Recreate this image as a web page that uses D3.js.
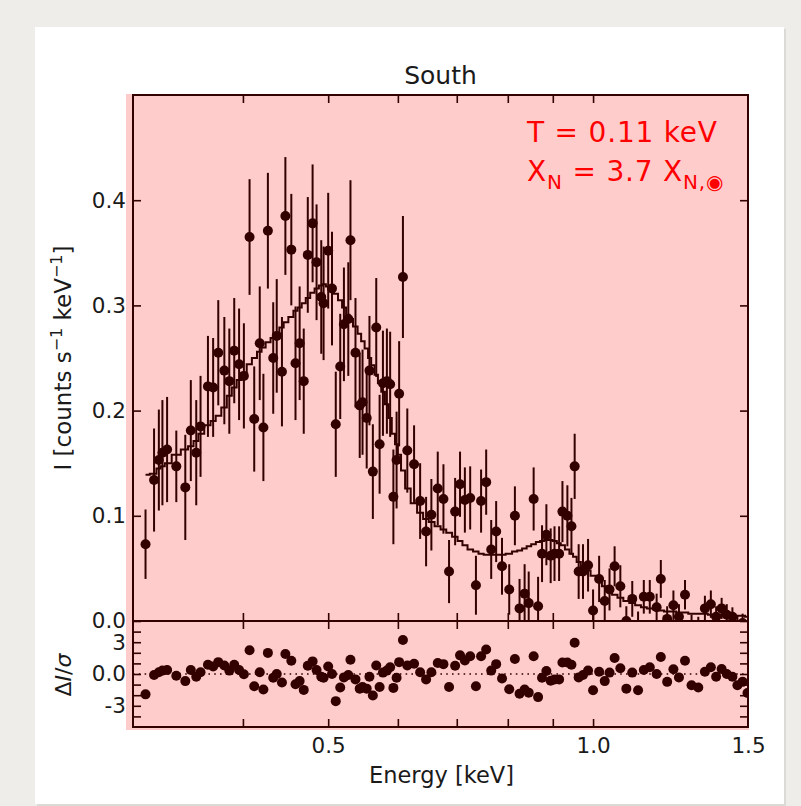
<!DOCTYPE html>
<html>
<head>
<meta charset="utf-8">
<script src="https://cdn.jsdelivr.net/npm/d3@7"></script>
<style>
  body { margin: 0; background: #efedea; }
  svg { display: block; font-family: "DejaVu Sans", sans-serif; }
</style>
</head>
<body>
<svg id="chart" width="801" height="806"></svg>
<script>

// spectrum bins: energy [keV], rate, 1-sigma error, model and residual (delta I / sigma)
const energy = [
  0.310, 0.317, 0.321, 0.324, 0.328, 0.336, 0.344, 0.349, 0.354, 0.358,
  0.365, 0.370, 0.375, 0.381, 0.386, 0.391, 0.396, 0.401, 0.407, 0.412,
  0.418, 0.422, 0.427, 0.433, 0.437, 0.443, 0.447, 0.454, 0.459, 0.464,
  0.469, 0.474, 0.480, 0.485, 0.491, 0.494, 0.500, 0.505, 0.510, 0.516,
  0.521, 0.527, 0.530, 0.537, 0.543, 0.547, 0.553, 0.557, 0.562, 0.567,
  0.572, 0.577, 0.583, 0.588, 0.593, 0.598, 0.602, 0.608, 0.615, 0.626,
  0.636, 0.646, 0.655, 0.666, 0.676, 0.686, 0.697, 0.706, 0.715, 0.725,
  0.736, 0.746, 0.756, 0.766, 0.776, 0.788, 0.803, 0.815, 0.825, 0.836,
  0.845, 0.856, 0.866, 0.875, 0.885, 0.895, 0.904, 0.915, 0.923, 0.935,
  0.945, 0.953, 0.963, 0.974, 0.987, 1.000, 1.016, 1.031, 1.044, 1.058,
  1.074, 1.091, 1.108, 1.125, 1.142, 1.160, 1.181, 1.194, 1.214, 1.234,
  1.252, 1.272, 1.294, 1.317, 1.340, 1.361, 1.380, 1.400, 1.419, 1.440,
  1.459, 1.479, 1.498
];

const rate = [
  0.073, 0.134, 0.153, 0.160, 0.163, 0.147, 0.127, 0.181, 0.160, 0.185,
  0.223, 0.222, 0.255, 0.238, 0.228, 0.257, 0.244, 0.233, 0.365, 0.192,
  0.264, 0.184, 0.371, 0.250, 0.271, 0.237, 0.385, 0.353, 0.245, 0.264,
  0.228, 0.348, 0.378, 0.341, 0.308, 0.302, 0.352, 0.316, 0.187, 0.242,
  0.282, 0.287, 0.362, 0.255, 0.205, 0.208, 0.193, 0.238, 0.142, 0.279,
  0.168, 0.226, 0.228, 0.225, 0.118, 0.153, 0.216, 0.327, 0.162, 0.149,
  0.114, 0.085, 0.101, 0.126, 0.116, 0.047, 0.104, 0.130, 0.115, 0.117,
  0.034, 0.114, 0.132, 0.068, 0.085, 0.052, 0.030, 0.100, 0.012, 0.026,
  0.017, 0.116, 0.014, 0.064, 0.082, 0.062, 0.064, 0.064, 0.104, 0.100,
  0.090, 0.147, 0.047, 0.047, 0.053, 0.010, 0.040, 0.019, 0.030, 0.052,
  0.033, 0.000, 0.021, -0.004, 0.023, 0.023, 0.013, 0.040, 0.002, 0.015,
  0.004, 0.025, -0.005, -0.007, 0.012, 0.016, 0.004, 0.012, 0.006, 0.004,
  -0.005, -0.002, -0.010
];

const rateErr = [
  0.033, 0.049, 0.048, 0.050, 0.050, 0.034, 0.050, 0.048, 0.050, 0.048,
  0.048, 0.047, 0.050, 0.051, 0.050, 0.050, 0.053, 0.050, 0.055, 0.050,
  0.054, 0.051, 0.055, 0.053, 0.054, 0.052, 0.056, 0.053, 0.054, 0.054,
  0.050, 0.055, 0.056, 0.055, 0.054, 0.054, 0.055, 0.054, 0.050, 0.050,
  0.054, 0.054, 0.057, 0.052, 0.050, 0.050, 0.048, 0.052, 0.045, 0.047,
  0.047, 0.050, 0.050, 0.050, 0.045, 0.046, 0.050, 0.058, 0.040, 0.037,
  0.036, 0.033, 0.034, 0.035, 0.033, 0.030, 0.032, 0.031, 0.031, 0.030,
  0.028, 0.030, 0.031, 0.028, 0.029, 0.027, 0.024, 0.028, 0.028, 0.028,
  0.030, 0.030, 0.028, 0.027, 0.029, 0.026, 0.026, 0.026, 0.029, 0.029,
  0.027, 0.031, 0.026, 0.026, 0.025, 0.020, 0.022, 0.020, 0.020, 0.019,
  0.020, 0.014, 0.017, 0.013, 0.016, 0.016, 0.013, 0.018, 0.012, 0.014,
  0.012, 0.014, 0.011, 0.011, 0.012, 0.013, 0.010, 0.010, 0.010, 0.009,
  0.010, 0.009, 0.008
];

const model = [
  0.139, 0.140, 0.145, 0.147, 0.150, 0.158, 0.163, 0.166, 0.171, 0.178,
  0.186, 0.190, 0.195, 0.203, 0.214, 0.222, 0.229, 0.236, 0.244, 0.250,
  0.256, 0.260, 0.265, 0.269, 0.272, 0.279, 0.284, 0.289, 0.295, 0.298,
  0.302, 0.307, 0.312, 0.316, 0.319, 0.320, 0.318, 0.315, 0.311, 0.305,
  0.298, 0.291, 0.287, 0.280, 0.273, 0.266, 0.259, 0.250, 0.243, 0.234,
  0.226, 0.218, 0.206, 0.193, 0.178, 0.168, 0.158, 0.143, 0.126, 0.112,
  0.103, 0.097, 0.094, 0.090, 0.087, 0.084, 0.080, 0.076, 0.072, 0.068,
  0.066, 0.064, 0.063, 0.063, 0.063, 0.063, 0.064, 0.066, 0.067, 0.069,
  0.071, 0.073, 0.075, 0.076, 0.077, 0.077, 0.076, 0.074, 0.072, 0.068,
  0.064, 0.061, 0.056, 0.052, 0.048, 0.043, 0.039, 0.033, 0.028, 0.025,
  0.022, 0.019, 0.017, 0.015, 0.013, 0.012, 0.011, 0.010, 0.009, 0.009,
  0.008, 0.008, 0.007, 0.007, 0.007, 0.006, 0.006, 0.006, 0.006, 0.005,
  0.005, 0.005, 0.004
];

const resid = [
  -1.92, -0.10, 0.16, 0.32, 0.38, -0.16, -0.67, 0.38, -0.26, 0.16,
  0.87, 0.70, 1.12, 0.80, 0.32, 0.87, 0.38, -0.03, 2.24, -1.15,
  0.16, -1.47, 1.99, -0.35, 0.00, -0.80, 1.89, 1.25, -0.96, -0.67,
  -1.50, 0.77, 1.19, 0.38, -0.26, -0.35, 0.70, 0.00, -2.56, -1.28,
  -0.32, -0.10, 1.35, -0.51, -1.38, -1.22, -1.38, -0.26, -2.02, 0.80,
  -1.22, 0.13, 0.32, 0.64, -1.31, -0.35, 1.12, 3.20, 0.80, 0.96,
  0.16, -0.51, 0.16, 1.03, 0.93, -1.22, 0.77, 1.76, 1.28, 1.67,
  -1.15, 1.67, 2.31, 0.32, 0.93, -0.42, -1.44, 1.41, -1.86, -1.47,
  -1.76, 1.67, -2.18, -0.35, 0.29, -0.64, -0.51, -0.51, 1.09, 1.09,
  0.87, 2.95, -0.32, -0.10, 0.32, -1.54, 0.22, -0.67, 0.13, 1.51,
  0.54, -1.38, 0.13, -1.54, 0.38, 0.64, 0.00, 1.60, -0.74, 0.45,
  -0.32, 1.25, -1.06, -1.28, 0.22, 0.64, -0.26, 0.48, 0.00, -0.26,
  -1.06, -0.74, -1.79
];

// ticks
const xTicks = [0.4, 0.5, 0.6, 0.7, 0.8, 0.9, 1.0];
const xLabels = [0.5, 1.0, 1.5];
const yTicks = [0.0, 0.1, 0.2, 0.3, 0.4];
const rTicks = [-4, -3, -2, -1, 0, 1, 2, 3, 4];
const rLabels = [-3, 0, 3];


// layout
const pLeft = 133, pRight = 748, pTop = 95, pMid = 621, pBottom = 727;
const ink = '#000';

const svg = d3.select('#chart');

// card
svg.append('rect').attr('x', 37).attr('y', 29).attr('width', 749).attr('height', 777).attr('fill', '#dcdad6');
svg.append('rect').attr('x', 35).attr('y', 27).attr('width', 749).attr('height', 777).attr('fill', '#fff');

// scales
const x = d3.scaleLog().domain([0.3, 1.5]).range([pLeft, pRight]);
const y = d3.scaleLinear().domain([0, 0.5]).range([pMid, pTop]);
const yr = d3.scaleLinear().domain([-5, 5]).range([pBottom, pMid]);

const pts = energy.map((e, i) => ({e: e, v: rate[i], err: rateErr[i], m: model[i], r: resid[i]}));

svg.append('clipPath').attr('id', 'clipTop')
  .append('rect').attr('x', pLeft).attr('y', pTop).attr('width', pRight - pLeft).attr('height', pMid - pTop);
svg.append('clipPath').attr('id', 'clipBot')
  .append('rect').attr('x', pLeft).attr('y', pMid).attr('width', pRight - pLeft).attr('height', pBottom - pMid);

const plot = svg.append('g');

// top panel: error bars, model, points
const topG = plot.append('g').attr('clip-path', 'url(#clipTop)');

topG.selectAll('line.err').data(pts).enter().append('line').attr('class', 'err')
  .attr('x1', d => x(d.e)).attr('x2', d => x(d.e))
  .attr('y1', d => y(d.v - d.err)).attr('y2', d => y(d.v + d.err))
  .attr('stroke', ink).attr('stroke-width', 2);

const stepLine = d3.line().x(d => x(d.e)).y(d => y(d.m)).curve(d3.curveStep);
topG.append('path').datum(pts).attr('d', stepLine)
  .attr('fill', 'none').attr('stroke', ink).attr('stroke-width', 2);

topG.selectAll('circle').data(pts).enter().append('circle')
  .attr('cx', d => x(d.e)).attr('cy', d => y(d.v)).attr('r', 5).attr('fill', ink);

// bottom panel: residuals
const botG = plot.append('g').attr('clip-path', 'url(#clipBot)');

botG.append('line')
  .attr('x1', pLeft).attr('x2', pRight).attr('y1', yr(0)).attr('y2', yr(0))
  .attr('stroke', ink).attr('stroke-width', 1.6).attr('stroke-dasharray', '1.6,4.2');

botG.selectAll('circle').data(pts).enter().append('circle')
  .attr('cx', d => x(d.e)).attr('cy', d => yr(d.r)).attr('r', 5).attr('fill', ink);

// ticks, pointing inward on every side
const tk = 8;
function ticksOnly(g) {
  g.select('.domain').remove();
  g.selectAll('.tick line').attr('stroke', ink).attr('stroke-width', 1.6);
  g.selectAll('.tick text').remove();
}
plot.append('g').attr('transform', `translate(0,${pTop})`)
  .call(d3.axisTop(x).tickValues(xTicks).tickSize(-tk)).call(ticksOnly);
plot.append('g').attr('transform', `translate(0,${pMid})`)
  .call(d3.axisBottom(x).tickValues(xTicks).tickSize(-tk)).call(ticksOnly);
plot.append('g').attr('transform', `translate(0,${pMid})`)
  .call(d3.axisTop(x).tickValues(xTicks).tickSize(-tk)).call(ticksOnly);
plot.append('g').attr('transform', `translate(0,${pBottom})`)
  .call(d3.axisBottom(x).tickValues(xTicks).tickSize(-tk)).call(ticksOnly);

plot.append('g').attr('transform', `translate(${pLeft},0)`)
  .call(d3.axisLeft(y).tickValues(yTicks).tickSize(-tk)).call(ticksOnly);
plot.append('g').attr('transform', `translate(${pRight},0)`)
  .call(d3.axisRight(y).tickValues(yTicks).tickSize(-tk)).call(ticksOnly);
plot.append('g').attr('transform', `translate(${pLeft},0)`)
  .call(d3.axisLeft(yr).tickValues(rTicks).tickSize(-tk)).call(ticksOnly);
plot.append('g').attr('transform', `translate(${pRight},0)`)
  .call(d3.axisRight(yr).tickValues(rTicks).tickSize(-tk)).call(ticksOnly);

// frames
plot.append('rect').attr('x', pLeft).attr('y', pTop).attr('width', pRight - pLeft).attr('height', pMid - pTop)
  .attr('fill', 'none').attr('stroke', ink).attr('stroke-width', 2);
plot.append('rect').attr('x', pLeft).attr('y', pMid).attr('width', pRight - pLeft).attr('height', pBottom - pMid)
  .attr('fill', 'none').attr('stroke', ink).attr('stroke-width', 2);

// translucent red wash over the plot
svg.append('rect').attr('x', 126).attr('y', 94).attr('width', 623).attr('height', 636)
  .attr('fill', '#ff0000').attr('fill-opacity', 0.2);

// tick labels
const labCol = '#1a1a1a';
function labelsOnly(g) {
  g.select('.domain').remove();
  g.selectAll('.tick line').remove();
  g.selectAll('.tick text').attr('fill', labCol).attr('font-size', 21.5).attr('font-family', '"DejaVu Sans", sans-serif');
}
svg.append('g').attr('transform', `translate(0,${pBottom})`)
  .call(d3.axisBottom(x).tickValues(xLabels).tickSize(0).tickPadding(11).tickFormat(d3.format('.1f')))
  .call(labelsOnly);
svg.append('g').attr('transform', `translate(${pLeft},0)`)
  .call(d3.axisLeft(y).tickValues(yTicks).tickSize(0).tickPadding(7).tickFormat(d3.format('.1f')))
  .call(labelsOnly);
svg.append('g').attr('transform', `translate(${pLeft},0)`)
  .call(d3.axisLeft(yr).tickValues(rLabels).tickSize(0).tickPadding(7).tickFormat(d => d === 0 ? '0.0' : String(d)))
  .call(labelsOnly);

// title and axis labels
svg.append('text').attr('x', (pLeft + pRight) / 2).attr('y', 84).attr('text-anchor', 'middle')
  .attr('font-size', 25).attr('fill', labCol).text('South');

svg.append('text').attr('x', (pLeft + pRight) / 2 + 1).attr('y', 783).attr('text-anchor', 'middle')
  .attr('font-size', 22.5).attr('fill', labCol).text('Energy [keV]');

const yl = svg.append('text').attr('transform', 'translate(71,358) rotate(-90)')
  .attr('text-anchor', 'middle').attr('font-size', 23).attr('fill', labCol);
yl.append('tspan').text('I [counts s');
yl.append('tspan').attr('dy', -9).attr('font-size', 16).text('\u22121');
yl.append('tspan').attr('dy', 9).text(' keV');
yl.append('tspan').attr('dy', -9).attr('font-size', 16).text('\u22121');
yl.append('tspan').attr('dy', 9).text(']');

const rl = svg.append('text').attr('transform', 'translate(71,675) rotate(-90)')
  .attr('text-anchor', 'middle').attr('font-size', 22).attr('fill', labCol);
rl.append('tspan').text('\u0394');
rl.append('tspan').attr('font-style', 'italic').text('I');
rl.append('tspan').text('/');
rl.append('tspan').attr('font-style', 'italic').text('\u03c3');

// fit parameters
const red = '#ff0000';
svg.append('text').attr('x', 527).attr('y', 142).attr('font-size', 28).attr('letter-spacing', 0.8)
  .attr('fill', red).text('T = 0.11 keV');
const t2 = svg.append('text').attr('x', 527).attr('y', 181).attr('font-size', 28).attr('letter-spacing', 0.8)
  .attr('fill', red);
t2.append('tspan').text('X');
t2.append('tspan').attr('dy', 8).attr('font-size', 20).text('N');
t2.append('tspan').attr('dy', -8).text(' = 3.7 X');
t2.append('tspan').attr('dy', 8).attr('font-size', 20).text('N,\u25c9');

</script>
</body>
</html>
